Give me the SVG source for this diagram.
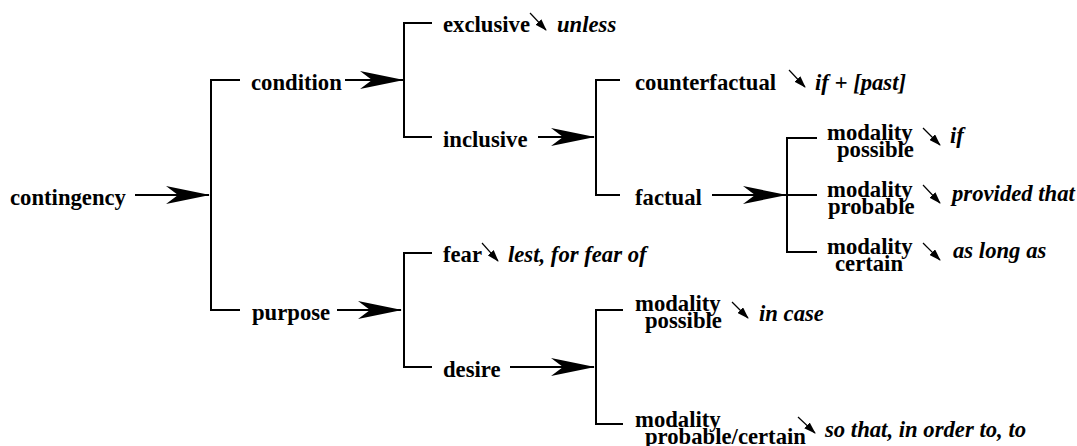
<svg xmlns="http://www.w3.org/2000/svg" width="1077" height="446" viewBox="0 0 1077 446">
<style>
.t{font-family:"Liberation Serif","Times New Roman",serif;font-weight:bold;font-size:22.7px;fill:#000}
.e{font-family:"Liberation Serif","Times New Roman",serif;font-weight:bold;font-style:italic;font-size:22.7px;fill:#000}
.br{fill:none;stroke:#000;stroke-width:2}
.ar{fill:none;stroke:#000;stroke-width:2;marker-end:url(#big)}
.sa{fill:none;stroke:#000;stroke-width:1.2;marker-end:url(#small)}
</style>
<defs>
<marker id="big" markerUnits="userSpaceOnUse" viewBox="0 0 44 20" refX="43" refY="10" markerWidth="44" markerHeight="20" orient="auto">
<path d="M0,1 L44,10 L0,19 L12,10 Z" fill="#000"/>
</marker>
<marker id="small" markerUnits="userSpaceOnUse" viewBox="0 0 12 8" refX="11" refY="4" markerWidth="12" markerHeight="8" orient="auto">
<path d="M0,0 L12,4 L0,8 Z" fill="#000"/>
</marker>
</defs>
<rect width="1077" height="446" fill="#fff"/>
<g id="connectors">
<path class="br" d="M240,80 H211 V310 H240"/>
<path class="br" d="M432,23 H404 V137 H432"/>
<path class="br" d="M620,80 H596 V195 H620"/>
<path class="br" d="M817,138 H787 V252 H817 M787,195 H817"/>
<path class="br" d="M432,253 H404 V367 H432"/>
<path class="br" d="M623,310 H596 V424 H623"/>
<line class="ar" x1="135" y1="195" x2="209" y2="195"/>
<line class="ar" x1="345" y1="80" x2="403" y2="80"/>
<line class="ar" x1="538" y1="137" x2="594" y2="137"/>
<line class="ar" x1="712" y1="195" x2="786" y2="195"/>
<line class="ar" x1="337" y1="310" x2="401" y2="310"/>
<line class="ar" x1="510" y1="367" x2="594" y2="367"/>
<line class="sa" x1="530" y1="13" x2="546" y2="30"/>
<line class="sa" x1="789" y1="70" x2="805" y2="87"/>
<line class="sa" x1="482" y1="243" x2="498" y2="261"/>
<line class="sa" x1="923" y1="128" x2="940" y2="145"/>
<line class="sa" x1="923" y1="185" x2="940" y2="203"/>
<line class="sa" x1="923" y1="243" x2="940" y2="260"/>
<line class="sa" x1="732" y1="302" x2="748" y2="318"/>
<line class="sa" x1="798" y1="417" x2="815" y2="433"/>
</g>
<g id="contingency"><text class="t" x="10" y="205">contingency</text></g>
<g id="condition"><text class="t" x="251" y="90">condition</text></g>
<g id="purpose"><text class="t" x="252" y="320">purpose</text></g>
<g id="exclusive"><text class="t" x="443" y="32">exclusive</text><text class="e" x="557" y="32">unless</text></g>
<g id="inclusive"><text class="t" x="443" y="147">inclusive</text></g>
<g id="counterfactual"><text class="t" x="635" y="90">counterfactual</text><text class="e" x="815" y="90">if + [past]</text></g>
<g id="factual"><text class="t" x="635" y="205">factual</text></g>
<g id="fact-possible"><text class="t" x="827" y="140">modality</text><text class="t" x="837" y="157">possible</text><text class="e" x="950" y="143">if</text></g>
<g id="fact-probable"><text class="t" x="827" y="197">modality</text><text class="t" x="828" y="214">probable</text><text class="e" x="952" y="201">provided that</text></g>
<g id="fact-certain"><text class="t" x="827" y="254">modality</text><text class="t" x="835" y="271">certain</text><text class="e" x="953" y="258">as long as</text></g>
<g id="fear"><text class="t" x="443" y="262">fear</text><text class="e" x="508" y="262">lest, for fear of</text></g>
<g id="desire"><text class="t" x="443" y="377">desire</text></g>
<g id="desire-possible"><text class="t" x="635" y="311">modality</text><text class="t" x="645" y="328">possible</text><text class="e" x="759" y="321">in case</text></g>
<g id="desire-probable-certain"><text class="t" x="635" y="427">modality</text><text class="t" x="645" y="444">probable/certain</text><text class="e" x="825" y="437">so that, in order to, to</text></g>
</svg>
